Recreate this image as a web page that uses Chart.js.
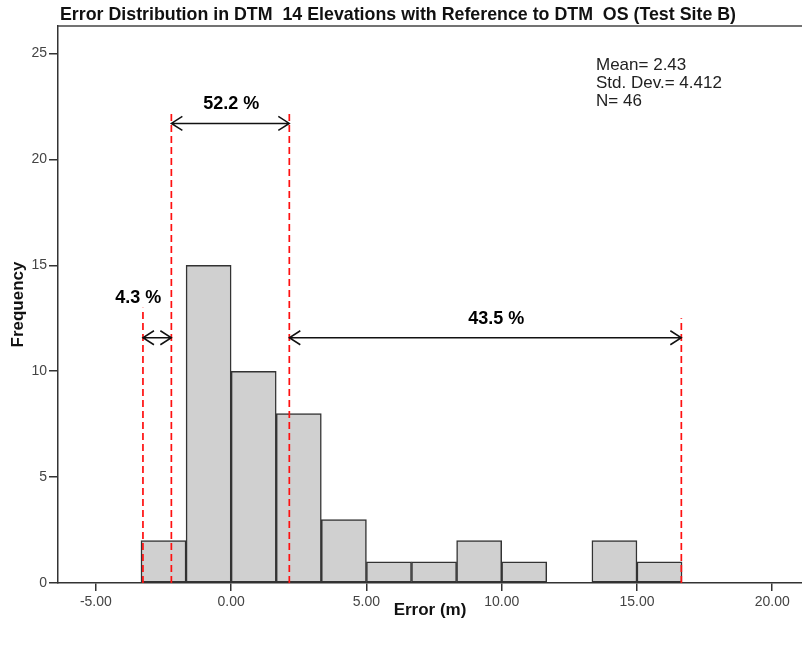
<!DOCTYPE html>
<html>
<head>
<meta charset="utf-8">
<script src="https://cdn.jsdelivr.net/npm/chart.js@4.4.1/dist/chart.umd.min.js"></script>
<style>
  html, body { margin: 0; padding: 0; background: #fff; }
  #wrap { width: 802px; height: 647px; }
</style>
</head>
<body>
<div id="wrap"><canvas id="chart" width="802" height="647"></canvas></div>
<script>
// histogram bins (centres, width 1.667 m) and counts
const binCenters = [-2.5, -0.833, 0.833, 2.5, 4.167, 5.833, 7.5, 9.167, 10.833, 12.5, 14.167, 15.833];
const frequencies = [2, 15, 10, 8, 3, 1, 1, 2, 1, 0, 2, 1];
const xTicks = [-5, 0, 5, 10, 15, 20];
const yTicks = [0, 5, 10, 15, 20, 25];

// red dashed cut lines (x in m) and how high they reach (frequency units)
const cutLines = [-3.26, -2.21, 2.15, 16.64];
const cutTops = [13.0, 22.3, 22.3, 12.5];

// double arrows between cut lines + their percentage labels
const spanFrom = [-2.21, -3.26, 2.15];
const spanTo = [2.15, -2.21, 16.64];
const spanY = [21.7, 11.58, 11.58];
const spanLabels = ['52.2 %', '4.3 %', '43.5 %'];
const labelX = [0, -3.43, 9.8];
const labelY = [22.6, 13.47, 12.45];

const stats = ['Mean= 2.43', 'Std. Dev.= 4.412', 'N= 46'];
const chartTitle = 'Error Distribution in DTM  14 Elevations with Reference to DTM  OS (Test Site B)';

const overlay = {
  id: 'overlay',
  afterDatasetsDraw(chart) {
    const ctx = chart.ctx;
    const xs = chart.scales.x;
    const ys = chart.scales.y;
    const area = chart.chartArea;

    ctx.save();
    // frame top line
    ctx.strokeStyle = '#444';
    ctx.lineWidth = 1.5;
    ctx.beginPath();
    ctx.moveTo(area.left, area.top);
    ctx.lineTo(area.right, area.top);
    ctx.stroke();

    // dashed cut lines
    ctx.strokeStyle = '#ff1010';
    ctx.lineWidth = 1.7;
    ctx.setLineDash([7, 4]);
    cutLines.forEach((v, i) => {
      const px = xs.getPixelForValue(v);
      ctx.beginPath();
      ctx.moveTo(px, ys.getPixelForValue(0));
      ctx.lineTo(px, ys.getPixelForValue(cutTops[i]));
      ctx.stroke();
    });
    ctx.setLineDash([]);

    // arrows
    ctx.strokeStyle = '#111';
    ctx.lineWidth = 1.5;
    spanFrom.forEach((v, i) => {
      const x1 = xs.getPixelForValue(v);
      const x2 = xs.getPixelForValue(spanTo[i]);
      const y = ys.getPixelForValue(spanY[i]);
      ctx.beginPath();
      ctx.moveTo(x1, y);
      ctx.lineTo(x2, y);
      ctx.moveTo(x1 + 11, y - 7);
      ctx.lineTo(x1, y);
      ctx.lineTo(x1 + 11, y + 7);
      ctx.moveTo(x2 - 11, y - 7);
      ctx.lineTo(x2, y);
      ctx.lineTo(x2 - 11, y + 7);
      ctx.stroke();
    });

    ctx.fillStyle = '#000';
    ctx.font = 'bold 18px "Liberation Sans", Arial, sans-serif';
    ctx.textAlign = 'center';
    ctx.textBaseline = 'middle';
    spanLabels.forEach((t, i) => {
      ctx.fillText(t, xs.getPixelForValue(labelX[i]), ys.getPixelForValue(labelY[i]));
    });

    // stats box
    ctx.fillStyle = '#222';
    ctx.font = '17px "Liberation Sans", Arial, sans-serif';
    ctx.textAlign = 'left';
    stats.forEach((t, i) => {
      ctx.fillText(t, 596, 65 + i * 18);
    });

    // title
    ctx.fillStyle = '#111';
    ctx.font = 'bold 19px "Liberation Sans Narrow", "Arial Narrow", "Liberation Sans", sans-serif';
    ctx.textBaseline = 'alphabetic';
    const w = ctx.measureText(chartTitle).width;
    ctx.translate(60, 20);
    ctx.scale(676 / w, 1);
    ctx.fillText(chartTitle, 0, 0);
    ctx.restore();
  }
};

const ctx = document.getElementById('chart').getContext('2d');
new Chart(ctx, {
  type: 'bar',
  data: {
    datasets: [{
      data: binCenters.map((c, i) => ({ x: c, y: frequencies[i] })),
      backgroundColor: '#d0d0d0',
      borderColor: '#333',
      borderWidth: 1.5,
      borderSkipped: false,
      barPercentage: 1,
      categoryPercentage: 1
    }]
  },
  options: {
    responsive: false,
    animation: false,
    devicePixelRatio: 1,
    layout: { padding: { top: 26, right: 0, left: 0, bottom: 0 } },
    plugins: {
      legend: { display: false },
      tooltip: { enabled: false }
    },
    scales: {
      x: {
        type: 'linear',
        offset: false,
        min: -6.4,
        max: 21.1,
        afterBuildTicks(scale) { scale.ticks = xTicks.map(v => ({ value: v })); },
        afterFit(scale) { scale.height = 64; },
        border: { display: true, color: '#333', width: 1.5 },
        grid: { offset: false, drawOnChartArea: false, drawTicks: true, tickLength: 8, color: '#333', lineWidth: 1.5 },
        ticks: {
          color: '#444',
          font: { family: '"Liberation Sans", Arial, sans-serif', size: 14 },
          padding: 3,
          maxRotation: 0,
          callback: v => v.toFixed(2)
        },
        title: {
          display: true,
          text: 'Error (m)',
          color: '#111',
          font: { family: '"Liberation Sans", Arial, sans-serif', size: 17, weight: 'bold' },
          padding: { top: 0, bottom: 26 }
        }
      },
      y: {
        min: 0,
        max: 26.3,
        afterBuildTicks(scale) { scale.ticks = yTicks.map(v => ({ value: v })); },
        afterFit(scale) { scale.width = 58; },
        border: { display: true, color: '#333', width: 1.5 },
        grid: { drawOnChartArea: false, drawTicks: true, tickLength: 9, color: '#333', lineWidth: 1.5 },
        ticks: {
          color: '#444',
          font: { family: '"Liberation Sans", Arial, sans-serif', size: 14 },
          padding: 2
        },
        title: {
          display: true,
          text: 'Frequency',
          color: '#111',
          font: { family: '"Liberation Sans", Arial, sans-serif', size: 17, weight: 'bold' },
          padding: { top: 8, bottom: 0 }
        }
      }
    }
  },
  plugins: [overlay]
});
</script>
</body>
</html>
